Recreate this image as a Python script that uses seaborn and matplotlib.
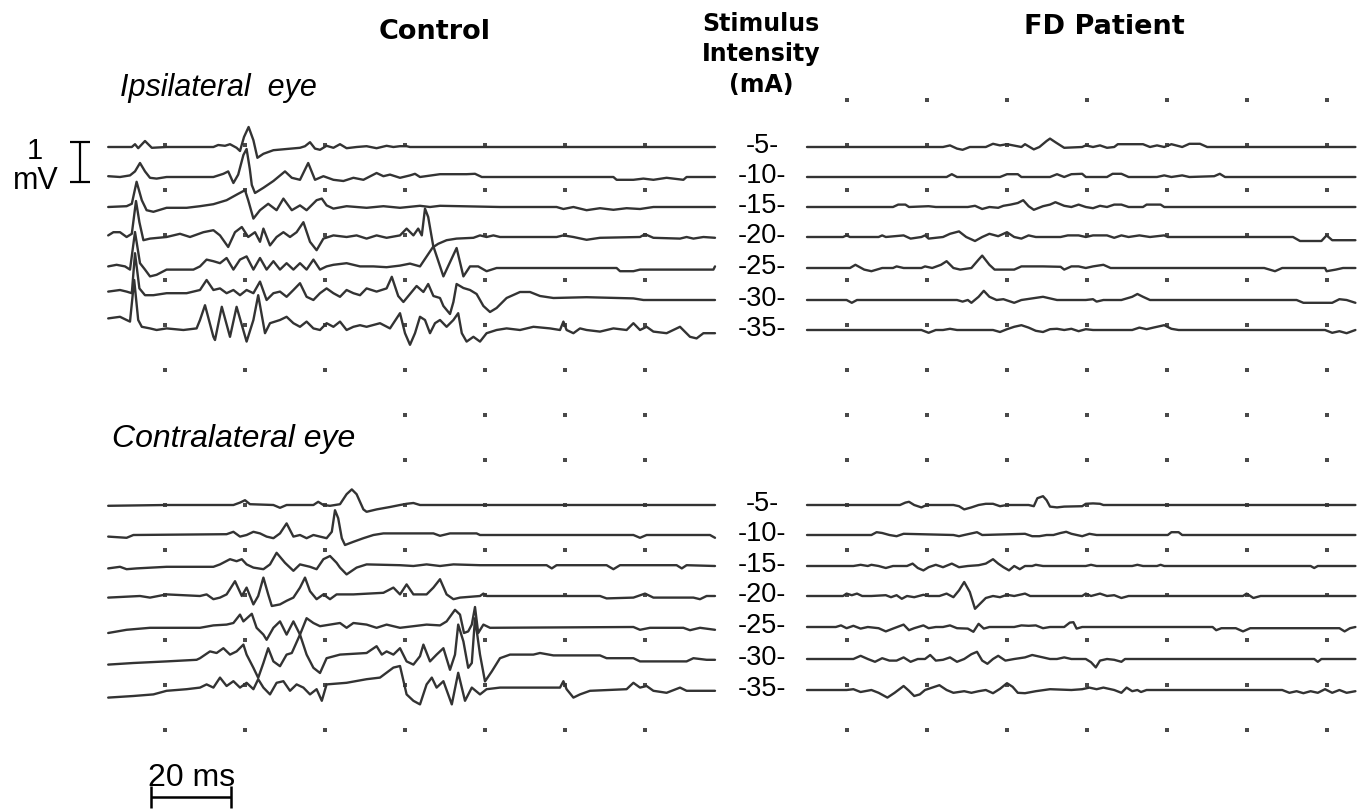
import matplotlib
matplotlib.use("Agg")
import matplotlib.pyplot as plt
import numpy as np
import pandas as pd
import seaborn as sns

# ---------------- data: stimulus intensities ----------------
stim_mA = [5, 10, 15, 20, 25, 30, 35]
grid_ms = [20, 40, 60, 80, 100, 120, 140]   # time-marker dots (ms)

# ---------------- Control, ipsilateral eye: (time ms, amplitude mV) ----------------
ci05 = [(5.8,0),(11.7,0),(12.5,0.07),(13.3,-0.03),(15,0.15),(16.7,-0.02),(20.4,0),(32.1,0),(33.3,0.05),(35,0.03),(36.25,0.07),(37.9,-0.02),(38.75,-0.1),(39.75,0.25),(40.9,0.5),(42.1,0.17),(43.1,-0.27),(44.6,-0.17),(47.1,-0.08),(50.4,-0.05),(53.75,-0.02),(55,0.02),(56.25,0.12),(57.5,-0.04),(58.75,-0.07),(60.4,0.03),(62.1,-0.02),(63.75,0.07),(65.4,-0.03),(67.9,0),(70.4,0.02),(72.9,-0.03),(75.4,0.03),(77.1,0),(78.75,0.02),(80.4,0.02),(81.25,0),(157.5,0)]
ci10 = [(5.8,0.02),(8.75,0),(11.25,0.04),(12.5,0.14),(13.75,0.35),(15,0.14),(16.25,-0.02),(17.9,-0.04),(20.4,0),(32.1,0),(34.6,0.08),(35.8,0.14),(37.1,-0.15),(38.3,0.06),(39.6,0.55),(40.4,0.7),(41.2,0.2),(41.7,-0.2),(42.5,-0.4),(44.6,-0.27),(47.1,-0.1),(50,0.14),(51.7,-0.02),(53.75,-0.07),(55.8,0.35),(57.5,-0.07),(59.6,0.02),(62.1,-0.07),(64.6,-0.1),(67.1,-0.02),(69.6,-0.07),(72.9,0.1),(74.6,0.02),(76.25,0.06),(78.75,-0.02),(81.25,0.04),(82.5,0.08),(83.75,0),(88.75,0.07),(95.4,0.07),(97.5,0.08),(99.2,0),(132.1,0),(132.9,-0.07),(137.1,-0.07),(139.6,-0.04),(142.1,-0.07),(145.4,-0.02),(149.6,-0.07),(150.4,0),(157.5,0)]
ci15 = [(5.8,0),(10.4,0.02),(11.7,0.08),(12.9,0.63),(14.2,0.17),(15.4,-0.08),(17.1,-0.12),(20.4,-0.02),(25.4,-0.02),(28.75,0.02),(32.1,0.07),(35.4,0.17),(38.3,0.33),(40,0.42),(40.8,0.17),(42.1,-0.29),(43.75,-0.08),(45.8,0.08),(47.9,-0.08),(49.6,0.21),(51.7,-0.08),(53.75,0.04),(55.4,-0.08),(57.9,0.17),(59.2,0.21),(60.4,0.04),(62.1,-0.04),(65.4,0.02),(70.4,-0.02),(74.6,0.02),(78.75,-0.02),(83.75,0.03),(86.25,0),(88.75,0.03),(93.75,0.02),(103.75,0),(117.9,0),(119.6,-0.05),(122.1,0),(125.4,-0.08),(128.75,-0.03),(132.1,-0.07),(135.4,-0.03),(138.75,-0.05),(142.1,0),(157.5,0)]
ci20 = [(5.8,0.04),(7.1,0.12),(8.75,0.12),(10.4,0),(11.7,0.08),(12.75,0.9),(13.6,0.37),(14.6,-0.08),(16.25,-0.04),(20.4,0),(23.75,0.08),(26.25,0),(29.6,0.12),(32.1,0.17),(33.75,0.04),(35.8,-0.25),(37.5,0.12),(39.2,0.25),(40.8,0),(42.5,0.12),(43.75,-0.12),(44.6,0.21),(46.25,-0.21),(47.9,0),(49.6,0.12),(51.25,0),(52.9,0.12),(54.6,0.37),(56.25,-0.12),(57.9,-0.33),(59.6,-0.04),(62.1,0.04),(65.4,0),(67.9,0.04),(70.4,-0.04),(72.9,0.04),(75.4,-0.02),(78.75,0.04),(80.4,0.21),(82.1,0.04),(83.3,0.21),(84.2,0.04),(85,0.71),(85.8,0.5),(87.1,-0.25),(88.3,-0.17),(90.4,-0.08),(92.9,-0.04),(97.1,-0.02),(98.75,0.04),(100.4,0),(102.1,0.04),(103.75,0),(117.9,0),(119.6,0.04),(122.1,0),(125.4,-0.07),(128.75,-0.02),(138.75,0),(140,0.07),(142.1,-0.02),(148.75,-0.04),(150.4,0),(152.1,-0.04),(154.6,0),(157.5,-0.02)]
ci25 = [(5.8,0.04),(7.9,0.08),(10,0.04),(11.25,-0.04),(12.5,0.9),(13.75,0.12),(15,-0.04),(16.25,-0.21),(17.9,-0.17),(20.4,-0.04),(27.1,-0.04),(28.75,0.04),(30.4,0.21),(32.1,0.17),(33.75,0.12),(35.4,0.25),(37.1,-0.04),(38.75,0.21),(40.4,0.29),(42.1,-0.04),(43.75,0.25),(45.4,-0.04),(47.1,0.17),(48.75,-0.04),(50.4,0.12),(52.1,-0.04),(53.75,0.12),(55.4,-0.04),(57.1,0.21),(58.75,-0.04),(60.4,0.04),(62.1,0.08),(65.4,0.12),(68.75,0.04),(72.1,0.04),(75.4,0.02),(78.75,0.06),(81.25,0.11),(83.75,0.04),(87.1,0.54),(89.6,-0.21),(92.9,0.5),(94.6,-0.21),(96.25,0.04),(98.3,0.04),(100.4,-0.08),(102.9,0),(132.9,0),(133.75,-0.08),(137.1,-0.08),(138.75,-0.04),(157.1,-0.04),(157.5,0.04)]
ci30 = [(5.8,0.21),(8.75,0.25),(10.4,0.21),(11.7,0.17),(12.5,1.17),(13.6,0.29),(15,0.12),(17.1,0.12),(20.4,0.17),(25.4,0.17),(28.75,0.25),(30.4,0.5),(32.1,0.25),(33.75,0.29),(35.4,0.17),(37.1,0.25),(38.75,0.12),(40.4,0.25),(42.1,0.17),(43.75,0.46),(45.4,0),(47.1,0.17),(48.75,0.21),(50.4,0.08),(52.1,0.25),(53.75,0.42),(55.4,0.08),(57.1,0),(58.75,0.17),(60.4,0.29),(62.1,0.17),(63.75,0.08),(65.4,0.25),(67.1,0.17),(68.75,0.12),(70.4,0.29),(72.9,0.21),(75.4,0.29),(76.7,0.58),(78.3,0.1),(79.6,-0.05),(81.25,0.15),(82.9,0.35),(84.6,0.2),(85.8,0.4),(87.1,0.1),(88.75,0.05),(89.6,-0.15),(91.25,-0.35),(92.1,-0.05),(92.9,0.4),(93.75,0.35),(94.6,0.3),(96.25,0.25),(97.9,0.15),(99.6,-0.15),(101.25,-0.3),(102.9,-0.2),(105.4,0.05),(108.75,0.2),(111.25,0.2),(113.75,0.1),(117.1,0.05),(125.4,0.07),(137.1,0.04),(139.6,0),(157.5,0)]
ci35 = [(5.8,0.29),(8.75,0.33),(10.4,0.25),(11.25,0.21),(12.3,1.25),(13.3,0.25),(14.2,0.08),(16.25,0.04),(17.9,0),(20.4,0.04),(24.6,0),(27.9,0.04),(28.75,0.25),(30,0.62),(32.1,-0.17),(32.5,-0.25),(34.2,0.58),(36.25,-0.17),(37.9,0.58),(40.4,-0.29),(42.1,0.25),(43.3,0.87),(45,-0.08),(46.25,0.17),(48.75,0.25),(50.4,0.33),(52.1,0.17),(53.75,0.08),(55.4,0.21),(57.1,0.04),(58.75,0),(60.4,0.17),(62.1,0.08),(63.75,0.21),(65.4,0),(67.1,0.08),(68.75,0.12),(70.4,0.08),(73.75,0.17),(76.25,0.04),(78.75,0.42),(80,-0.08),(81.25,-0.37),(82.5,-0.08),(83.75,0.33),(85,0.25),(86.25,-0.08),(87.5,0.17),(88.75,0.25),(90.4,0.08),(92.1,0.25),(93.3,0.42),(94.2,-0.08),(95.4,-0.29),(97.1,-0.17),(98.75,-0.29),(100.4,-0.08),(102.9,0),(105.4,0.04),(108.75,0),(112.1,0.08),(116.25,0.04),(118.75,0),(119.6,0.21),(120.4,0),(122.1,-0.08),(123.75,0.04),(125.4,0),(128.75,-0.04),(132.1,0.04),(135.4,0),(137.1,0.17),(138.75,0),(140.4,0.08),(142.1,-0.04),(145.4,-0.08),(148.75,0.08),(151.25,-0.17),(152.9,-0.21),(154.6,-0.08),(157.5,-0.08)]

# ---------------- Control, contralateral eye ----------------
cc05 = [(5.8,-0.02),(20.4,0),(37.1,0),(38.75,0.06),(40,0.12),(41.25,0.02),(47.1,0),(48.75,-0.07),(50.4,0),(57.1,0),(58.3,0.08),(59.6,0),(61.25,-0.02),(63.75,0.02),(65.4,0.27),(66.7,0.39),(67.9,0.27),(69.6,-0.11),(70.4,-0.17),(72.9,-0.11),(76.25,-0.05),(78.75,0),(80.4,0.03),(82.1,0.05),(83.75,0),(157.5,0)]
cc10 = [(5.8,-0.04),(10.4,-0.07),(12.1,0),(35.4,0.02),(37.1,0.08),(38.75,-0.04),(40.4,0),(42.1,0.08),(43.75,0.04),(45.4,-0.04),(47.1,-0.08),(48.75,0.04),(50.4,0.29),(52.1,-0.04),(53.75,0),(55.4,-0.08),(57.1,0),(58.75,-0.04),(60.4,-0.08),(61.7,0.08),(62.5,0.62),(63.3,0.42),(64.2,-0.08),(65,-0.25),(67.1,-0.17),(69.6,-0.08),(72.1,0),(74.6,0.04),(87.1,0.04),(88.75,-0.02),(91.25,0.04),(97.9,0.04),(98.75,0),(137.1,0),(138.75,-0.07),(140.4,0),(156.25,0),(157.5,-0.07)]
cc15 = [(5.8,-0.06),(8.75,-0.02),(10.4,-0.08),(12.9,-0.06),(20.4,-0.02),(32.1,-0.02),(33.75,0.04),(36.25,0.17),(37.9,0.12),(39.2,0.17),(40.4,0.04),(42.1,-0.04),(44.6,-0.08),(46.25,0.04),(47.9,0.33),(50,0.08),(52.1,-0.12),(53.75,0.04),(56.25,-0.02),(57.9,-0.08),(59.6,0.17),(61.25,0.25),(62.9,0.08),(63.75,-0.04),(65.4,-0.21),(67.9,-0.04),(70.4,0.04),(78.75,0.02),(82.1,0),(85.4,0.04),(88.75,0),(92.1,0.04),(98.75,0.02),(115.4,0.02),(116.7,-0.06),(117.9,0.02),(130.4,0.02),(132.1,-0.08),(133.75,0.02),(147.9,0.02),(149.2,-0.06),(150.4,0.02),(157.5,0)]
cc20 = [(5.8,-0.04),(13.75,0),(16.25,-0.04),(20.4,0.04),(28.75,0),(30.4,0.04),(32.1,-0.08),(33.75,-0.04),(35.4,0.04),(37.5,0.37),(39.2,0),(40.4,0.21),(42.1,-0.21),(43.3,0),(44.6,0.46),(45.8,0.04),(46.7,-0.25),(48.75,-0.21),(50.4,-0.12),(52.1,-0.04),(53.75,0.21),(55,0.46),(56.25,0.12),(57.9,-0.08),(59.6,0.04),(61.25,-0.08),(62.9,0.04),(67.1,0.04),(74.6,0.08),(77.1,0.21),(78.75,0.04),(80.4,0.29),(82.1,0.04),(85.4,0.04),(87.1,0.21),(88.75,0.42),(90.4,0.04),(92.1,-0.08),(93.75,-0.04),(98.75,0),(99.6,0.06),(100.4,0),(128.75,0),(130.4,-0.06),(137.1,-0.04),(140,0.06),(142.1,-0.04),(152.1,-0.04),(153.75,-0.08),(155.4,0),(157.5,0)]
cc25 = [(5.8,-0.15),(10.4,-0.07),(16.25,-0.02),(28.75,-0.02),(32.1,0.04),(35.4,0.06),(37.1,0.1),(38.75,0.31),(39.6,0.14),(41.7,0.33),(42.9,-0.02),(44.6,-0.19),(45.4,-0.32),(47.1,-0.02),(48.75,0.14),(50.4,-0.19),(52.1,0.14),(53.75,-0.19),(55.4,0.22),(57.1,0.1),(58.75,0.02),(61.25,0.06),(63.75,0.1),(65.4,-0.02),(67.1,0.1),(70.4,0.06),(72.9,-0.02),(75.4,0.06),(78.75,-0.02),(82.1,0.02),(85.4,0.06),(88.75,0.04),(90.4,0.14),(92.5,0.43),(93.75,0.31),(94.75,-0.15),(95.8,-0.11),(96.7,0.06),(97.5,0.5),(98.3,-0.15),(99.6,0.06),(101.25,-0.02),(137.1,0),(138.75,-0.07),(141.25,-0.02),(149.6,-0.02),(151.25,-0.08),(153.75,-0.02),(157.5,-0.07)]
cc30 = [(5.8,-0.14),(12.1,-0.1),(20.4,-0.06),(27.9,-0.02),(28.75,0.02),(31.25,0.19),(32.9,0.15),(34.6,0.27),(36.25,0.11),(37.9,0.19),(39.6,0.36),(40.4,0.11),(42.1,-0.22),(43.3,-0.47),(44.6,-0.1),(45.8,0.27),(47.1,-0.06),(48.75,-0.18),(50.4,0.11),(51.7,0.15),(53.75,0.61),(55.4,0.11),(57.1,-0.22),(58.75,-0.35),(60.4,0.02),(63.75,0.11),(70.4,0.15),(72.9,0.32),(74.2,0.11),(75.4,0.19),(77.1,0.11),(78.75,0.27),(80.4,-0.06),(82.1,-0.14),(83.75,0.07),(84.6,0.36),(86.25,-0.06),(87.9,0.11),(89.6,0.27),(91.25,-0.27),(92.5,0.11),(93.3,0.86),(94.6,0.44),(95.8,-0.22),(96.7,-0.1),(97.5,1.02),(98.75,0.11),(100,-0.56),(101.7,-0.31),(103.75,0.02),(106.25,0.11),(112.1,0.11),(113.75,0.15),(117.1,0.09),(128.75,0.09),(130.4,0.02),(137.1,0.02),(138.75,-0.06),(150.4,-0.06),(152.1,0.02),(155.4,-0.02),(157.5,-0.02)]
cc35 = [(5.8,-0.19),(12.1,-0.15),(17.1,-0.11),(20.4,-0.02),(25.4,0.02),(28.75,0.06),(30.4,0.14),(32.1,0.06),(33.75,0.31),(35.4,0.1),(37.1,0.22),(38.75,0.06),(40.4,0.18),(42.1,0.02),(43.3,0.27),(44.6,0.06),(46.25,-0.11),(47.9,0.18),(49.6,0.22),(51.25,-0.02),(52.9,0.14),(54.6,0.06),(56.25,-0.11),(57.9,0.02),(59.2,-0.27),(60.4,0.14),(65.4,0.18),(70.4,0.27),(73.75,0.31),(77.1,0.56),(78.75,0.6),(80.4,-0.11),(82.1,-0.27),(83.75,-0.36),(85.4,0.14),(86.7,0.31),(87.9,0.06),(89.6,0.22),(91.7,-0.36),(93.3,0.43),(95,-0.27),(96.7,0.06),(98.75,-0.11),(100.4,0.02),(103.75,0.06),(118.75,0.06),(119.6,0.22),(120.4,0.02),(122.1,-0.19),(123.75,-0.11),(126.25,-0.02),(135.4,0.02),(137.1,0.18),(138.75,0.06),(140.4,0.1),(142.1,-0.02),(145.4,-0.07),(148.75,0.06),(150.4,-0.02),(157.5,-0.02)]

# ---------------- FD patient, ipsilateral eye ----------------
fi05 = [(10,0),(44,0),(45.75,0.04),(47.5,-0.04),(48.9,-0.07),(50.7,0),(54.7,0),(56.5,0.08),(58.25,0.04),(60,0.07),(63.6,0),(64.5,0.07),(66.7,-0.06),(68.1,0),(69.9,0.15),(70.75,0.21),(72.1,0.12),(74.3,-0.02),(78.8,0),(79.7,0.04),(81.5,0),(83.25,0.04),(85,-0.02),(86.8,0),(87.7,0.07),(94,0.07),(95.75,0),(97.5,0.04),(99.3,0),(101.1,0.07),(103.8,0),(105.6,0.08),(108.25,0.08),(110.05,0),(147.1,0)]
fi10 = [(10,0),(44.9,0),(46.2,0.07),(47.5,0),(58.25,0),(60,0.07),(62.7,0.07),(63.6,0),(70.75,0),(72.5,0.07),(74.3,0),(76.1,0.07),(78.8,0.08),(79.7,0),(85,0),(86.4,0.08),(88.6,0.08),(90.4,0),(97.5,0),(99.3,0.04),(101.1,0),(103.8,0.04),(105.6,0),(111.8,0.02),(113.2,0.08),(114.5,0),(147.1,0)]
fi15 = [(10,0),(31.5,0),(32.8,0.06),(34.6,0.06),(35.5,0),(40.4,0.02),(42.2,0),(50.2,0),(52,0.03),(53.8,-0.05),(55.6,0),(57.8,-0.02),(59.1,0.03),(60.9,0.06),(62.7,0.1),(64.05,0.17),(65.4,0.02),(66.7,-0.07),(69,0.02),(70.75,0.06),(72.1,0.12),(74.3,0.03),(76.1,0),(77.9,0.06),(79.7,0),(81.5,-0.03),(83.25,0.03),(85,0),(86.8,0.06),(88.6,0.06),(90.4,0),(94,0),(94.9,0.06),(98.4,0.06),(99.3,0),(147.1,0)]
fi20 = [(10,0),(19,0),(19.9,0.04),(20.75,0),(27.9,0),(28.8,0.04),(29.7,0),(34.15,0.04),(35.9,-0.04),(38.6,0),(39.5,0.04),(40.4,-0.04),(44,0),(45.75,0.08),(48,0.14),(49.8,0),(52,-0.1),(53.8,0),(55.6,0.08),(57.8,0.02),(60,0.12),(61.8,0),(63.6,-0.04),(65.4,0.04),(67.2,0),(73.4,0),(75.2,0.04),(77.9,0.04),(79.7,0),(81.5,0.04),(85,0.04),(86.8,-0.02),(88.6,0.04),(90.4,0),(93.1,0.04),(95.75,0),(99.3,0.04),(100.2,0),(131.5,0),(133.25,-0.1),(138.6,-0.1),(139.9,0.04),(141.3,-0.08),(147.1,-0.08)]
fi25 = [(10,0),(20.75,0),(22.1,0.08),(24.3,-0.04),(26.1,-0.08),(28.8,0),(31.5,0),(32.4,0.04),(34.15,0),(38.6,0),(39.5,0.04),(41.3,0),(43.5,0.08),(44.9,0.17),(46.6,0),(48.3,-0.04),(51.1,0),(52.9,0.21),(53.8,0.31),(55.6,0.08),(56.9,-0.04),(61.8,-0.04),(63.6,0.04),(69,0.04),(73.4,0.03),(74.3,-0.04),(76.1,0.04),(77.9,0.04),(79.7,0),(81.5,0.04),(84.1,0.08),(85.9,0),(124.3,0),(127,-0.08),(128.8,0),(139.5,0),(139.9,-0.08),(142.2,-0.04),(144,0),(147.1,0)]
fi30 = [(10,0),(19.9,0),(21.2,-0.07),(22.5,0),(47.5,0),(48.9,-0.04),(50.2,0),(51.1,-0.07),(52.9,0.08),(54.2,0.23),(55.6,0.08),(57.4,0),(59.1,0.02),(61.8,-0.07),(63.6,0),(69,0.08),(70.75,0.04),(72.5,0),(79.7,0),(81.5,0.02),(82.4,-0.04),(84.1,0),(88.6,0),(91.3,0.08),(92.6,0.15),(94,0.08),(95.75,0),(132.4,0),(134.1,-0.07),(141.3,-0.07),(143.1,0.02),(144.9,0),(147.1,-0.07)]
fi35 = [(10,0),(38.6,0),(40.4,-0.07),(42.2,0),(44,0),(45.75,0.03),(47.5,0),(56.5,0),(58.25,-0.05),(60,0.02),(61.8,0.08),(63.6,0.12),(65.4,0.06),(67.2,-0.02),(69,-0.05),(70.75,0.02),(72.5,0.03),(74.3,0),(76.1,0.03),(77.9,-0.03),(79.7,0.02),(81.5,0),(91.3,0),(93.1,0.06),(94.9,0.02),(96.6,0.06),(99.3,0.12),(101.1,0.03),(102.9,0),(139.5,0),(141.3,-0.07),(143.1,-0.03),(144.9,-0.08),(147.1,0)]

# ---------------- FD patient, contralateral eye ----------------
fc05 = [(10,0),(33.25,0),(34.6,0.06),(35.5,0.08),(36.8,0),(38.6,-0.06),(39.9,0),(46.6,0),(48,-0.03),(49.3,-0.11),(51.1,-0.06),(52.9,0),(54.7,0.03),(56.5,0.03),(58.25,-0.03),(60,0),(65.4,0),(66.7,-0.03),(67.6,0.17),(69,0.22),(69.9,0.12),(70.75,-0.04),(72.5,-0.06),(74.3,-0.04),(78.8,-0.03),(79.7,0.03),(81.5,0.04),(83.25,0.03),(84.1,0),(147.1,0)]
fc10 = [(10,0),(26.1,0),(27.4,0.07),(28.8,0.05),(30.6,0),(32.4,-0.03),(34.15,0.03),(46.6,0),(48,-0.03),(49.3,0),(52.5,0.07),(53.8,0),(64.5,0.03),(66.3,-0.03),(68.1,-0.03),(69.9,0),(71.6,0),(73.4,0.05),(74.8,0.08),(76.1,0.03),(78.8,-0.03),(80.6,0.03),(82.4,0),(100.2,0),(101.1,0.07),(102.9,0.07),(103.8,0),(147.1,0)]
fc15 = [(10,0),(21.6,0),(23.4,0.03),(25.2,0),(26.1,0.03),(27.9,0),(29.7,-0.05),(31.5,0),(35,0),(36.4,0.06),(37.7,-0.05),(39.1,-0.11),(40.4,-0.03),(42.2,0.03),(44,-0.03),(46.2,0.06),(48,-0.03),(50.2,0),(52.9,0.02),(54.7,0.06),(56.5,0.17),(57.8,0.06),(59.1,-0.03),(60.5,-0.11),(61.8,0),(63.2,-0.08),(64.5,0),(66.3,0),(67.2,0.03),(69,0),(79.7,0),(81,0.03),(82.4,0),(91.3,0),(92.6,0.03),(94,0),(97.5,0),(98.4,0.03),(99.3,0),(135.9,0),(136.8,-0.05),(137.7,0),(147.1,0)]
fc20 = [(10,0),(19,0),(19.9,0.06),(21.2,0.02),(22.5,0.06),(23.8,0),(26.1,0),(29.7,0.02),(31,-0.03),(32.4,0.02),(33.7,-0.07),(35,0),(36.8,-0.03),(39.1,0.03),(40.4,0),(43.1,0),(44.9,0.06),(46.6,-0.03),(48,0.14),(49.3,0.35),(50.7,0.1),(52,-0.32),(53.3,-0.19),(54.7,-0.05),(56.5,0),(58.25,-0.03),(60,0.03),(61.8,0),(64.5,0.06),(65.8,0),(78.8,0),(79.7,0.06),(81,0),(83.25,0.06),(85,0),(86.8,0.02),(88.6,-0.05),(90.4,0),(119,0),(119.9,0.06),(121.6,-0.05),(123.4,0),(147.1,0)]
fc25 = [(10,0),(17.2,0),(18.5,0.04),(19.9,-0.03),(21.6,0.03),(23.4,-0.04),(25.2,0),(27.9,-0.03),(29.7,-0.11),(31.5,-0.04),(34.15,0.06),(35.5,-0.08),(36.8,-0.03),(39.1,0.04),(40.4,-0.03),(42.2,0),(44,0),(45.75,0.04),(47.5,-0.03),(50.2,-0.04),(51.6,-0.12),(52.9,0.08),(54.2,-0.04),(55.6,0),(61.8,0),(63.6,0.04),(65.4,0.03),(67.2,0.04),(69,-0.03),(70.75,0),(74.3,0),(75.7,0.11),(76.6,0.12),(77.4,-0.04),(78.8,0),(111.4,0),(112.3,-0.08),(113.6,-0.03),(117.2,-0.03),(119,-0.11),(120.8,-0.03),(143.1,-0.03),(144.4,-0.11),(145.75,-0.03),(147.1,0)]
fc30 = [(10,0),(21.6,0),(23.4,0.08),(25.2,0),(27,-0.07),(28.8,0.02),(30.6,-0.04),(32.4,-0.04),(34.15,0.04),(35.9,-0.07),(37.7,0),(39.5,0),(40.8,0.1),(42.2,-0.04),(44,-0.02),(45.75,0.04),(47.5,-0.07),(49.3,0),(51.1,0.12),(52.5,0.18),(53.8,-0.04),(55.1,-0.12),(56.5,0),(57.8,0.08),(59.6,-0.04),(61.8,0),(64.5,0.04),(66.3,0.1),(69,0.04),(70.75,0),(72.5,0),(74.3,0.04),(76.1,0),(79.7,0),(81,-0.08),(82.2,-0.21),(83.25,-0.04),(85,0),(86.8,-0.02),(88.6,-0.07),(89.5,0),(136.8,0),(137.7,-0.07),(138.6,0),(147.1,0)]
fc35 = [(10,0),(19.9,0),(21.6,0.02),(23.4,-0.05),(26.1,0),(27.9,-0.07),(30.1,-0.19),(31.9,-0.07),(34.15,0.1),(35.5,-0.02),(36.8,-0.15),(38.2,-0.11),(39.5,0),(41.3,0.06),(43.1,0.12),(44.9,0),(46.6,-0.07),(49.3,-0.03),(51.1,-0.07),(52.9,-0.03),(54.7,0),(56.5,-0.08),(58.25,0.03),(60,0.17),(61.4,0.08),(62.7,-0.07),(64.5,-0.08),(67.2,-0.03),(70.75,0.02),(76.1,0),(78.8,0.02),(80.6,0.06),(82.4,0.02),(84.1,0.06),(86.8,0),(88.6,-0.07),(89.9,0.06),(91.3,-0.03),(92.6,0),(93.5,-0.05),(94.9,0),(128.8,0),(130.6,-0.07),(132.4,-0.03),(134.1,-0.08),(135.9,-0.03),(137.7,-0.07),(139.5,0.02),(141.3,-0.07),(143.1,0),(144.9,-0.07),(147.1,-0.03)]

ctrl_ipsi = [ci05, ci10, ci15, ci20, ci25, ci30, ci35]
ctrl_contra = [cc05, cc10, cc15, cc20, cc25, cc30, cc35]
fd_ipsi = [fi05, fi10, fi15, fi20, fi25, fi30, fi35]
fd_contra = [fc05, fc10, fc15, fc20, fc25, fc30, fc35]

# ---------------- layout (pixels of the 1361x810 canvas) ----------------
W, H = 1361, 810
PX_PER_MS, PX_PER_MV = 4.0, 40.0
panel_x0_ms = {"ctrl": 21.25, "fd": 191.75}          # where t = 0 ms sits
ipsi_rows_px = [147, 177, 207, 237, 268, 300, 330]
contra_rows_px = [505, 535, 566, 596, 627, 659, 690]

def py2mv(py):
    return -py / PX_PER_MV

records = []
for panel, side, traces, rows in [("ctrl", "ipsi", ctrl_ipsi, ipsi_rows_px),
                                  ("ctrl", "contra", ctrl_contra, contra_rows_px),
                                  ("fd", "ipsi", fd_ipsi, ipsi_rows_px),
                                  ("fd", "contra", fd_contra, contra_rows_px)]:
    for mA, tr, rpx in zip(stim_mA, traces, rows):
        for k, (t, mv) in enumerate(tr):
            records.append({"trace": f"{panel}-{side}-{mA}", "order": k,
                            "x": panel_x0_ms[panel] + t, "y": py2mv(rpx) + mv})
df = pd.DataFrame(records)

# time-marker dot grid
dot_rows_px = [100 + 45 * k for k in range(15)]
dots = []
for panel in ["ctrl", "fd"]:
    for k, rpx in enumerate(dot_rows_px):
        if panel == "ctrl" and k == 0:
            continue
        for g in grid_ms:
            if panel == "ctrl" and k in (7, 8) and g < 80:
                continue
            dots.append({"x": panel_x0_ms[panel] + g, "y": py2mv(rpx), "panel": panel})
ddf = pd.DataFrame(dots)

sns.set_theme(style="white")
plt.rcParams["font.family"] = ["DejaVu Sans"]
plt.rcParams["text.color"] = "black"

fig = plt.figure(figsize=(W / 100, H / 100), dpi=100)
fig.patch.set_facecolor("white")
ax = fig.add_axes([0, 0, 1, 1])
ax.set_xlim(0, W / PX_PER_MS)
ax.set_ylim(-H / PX_PER_MV, 0)
ax.axis("off")

sns.scatterplot(data=ddf, x="x", y="y", marker="s", s=5, color="#4a4a4a",
                linewidth=0, ax=ax, legend=False, zorder=1)
sns.lineplot(data=df, x="x", y="y", units="trace", estimator=None, sort=False,
             color="#333333", linewidth=1.7, ax=ax, legend=False, zorder=2,
             solid_joinstyle="round", solid_capstyle="round")

def ftext(xp, yp, s, **kw):
    fig.text(xp / W, 1 - yp / H, s, color="black", **kw)

# headers
ftext(435, 32, "Control", ha="center", va="center", fontsize=19.5,
      fontweight="bold", family=["DejaVu Sans"])
ftext(1104, 27, "FD Patient", ha="center", va="center", fontsize=19.5,
      fontweight="bold", family=["DejaVu Sans"])
for yp, s in [(24, "Stimulus"), (54, "Intensity"), (85, "(mA)")]:
    ftext(761, yp, s, ha="center", va="center", fontsize=17,
          fontweight="bold", family=["DejaVu Sans"])

# stimulus labels
for mA, r1, r2 in zip(stim_mA, ipsi_rows_px, contra_rows_px):
    for r in (r1, r2):
        ftext(762, r - 1, f"-{mA}-", ha="center", va="center", fontsize=19.5,
              family=["Liberation Sans", "DejaVu Sans"])

# side labels
ftext(120, 96, "Ipsilateral  eye", ha="left", va="baseline", fontsize=22,
      style="italic", family=["Liberation Sans", "DejaVu Sans"])
ftext(112, 447, "Contralateral eye", ha="left", va="baseline", fontsize=23,
      style="italic", family=["Liberation Sans", "DejaVu Sans"])

# amplitude scale bar (1 mV)
xb = 80 / PX_PER_MS
y0, y1 = py2mv(142), py2mv(142) - 1.0
ax.plot([xb, xb], [y0, y1], color="black", lw=1.6, solid_capstyle="butt")
for yy in (y0, y1):
    ax.plot([xb - 2.5, xb + 2.5], [yy, yy], color="black", lw=1.6, solid_capstyle="butt")
ftext(35, 151, "1", ha="center", va="center", fontsize=21,
      family=["Liberation Sans", "DejaVu Sans"])
ftext(36, 181, "mV", ha="center", va="center", fontsize=22,
      family=["Liberation Sans", "DejaVu Sans"])

# time scale bar (20 ms)
x0 = 151 / PX_PER_MS
yb = py2mv(797)
ax.plot([x0, x0 + 20], [yb, yb], color="black", lw=1.8, solid_capstyle="butt")
for xx in (x0, x0 + 20):
    ax.plot([xx, xx], [yb + 0.27, yb - 0.27], color="black", lw=1.8, solid_capstyle="butt")
ftext(192, 778, "20 ms", ha="center", va="center", fontsize=23,
      family=["Liberation Sans", "DejaVu Sans"])

fig.savefig("out.png", dpi=100, facecolor="white")
